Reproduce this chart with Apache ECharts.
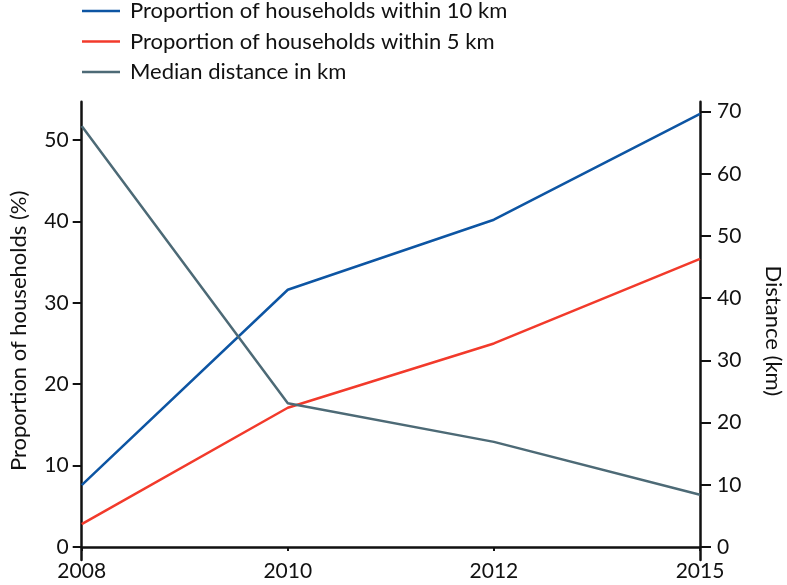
<!DOCTYPE html>
<html>
<head>
<meta charset="utf-8">
<script src="https://cdn.jsdelivr.net/npm/echarts@6/dist/echarts.min.js"></script>
<style>html,body{margin:0;padding:0;background:#fff}#c{width:787px;height:585px}</style>
</head>
<body>
<div id="c"></div>
<script>
var categories = ['2008', '2010', '2012', '2015'];
var within10km = [7.6, 31.6, 40.2, 53.2];
var within5km = [2.8, 17.1, 25.0, 35.4];
var medianDistance = [67.7, 23.1, 16.9, 8.4];
var leftTicks = [0, 10, 20, 30, 40, 50];
var rightTicks = [0, 10, 20, 30, 40, 50, 60, 70];
var seriesNames = ['Proportion of households within 10 km', 'Proportion of households within 5 km', 'Median distance in km'];

var FONT = 'Lato';
var INK = '#111';
var chart = echarts.init(document.getElementById('c'));
var axisLineStyle = { color: INK, width: 2.5 };
chart.setOption({
  animation: false,
  textStyle: { fontFamily: FONT },
  legend: {
    left: 82, top: -2, orient: 'vertical', padding: 0,
    icon: 'rect', itemWidth: 38, itemHeight: 2.5, itemGap: 4.5,
    textStyle: { fontFamily: FONT, fontSize: 22, color: INK, lineHeight: 26, padding: [0, 0, 0, 5] },
    data: seriesNames
  },
  grid: { left: 81.7, right: 87, top: 101.7, bottom: 25, containLabel: false, outerBoundsMode: 'none' },
  xAxis: {
    type: 'category', data: categories, boundaryGap: false,
    axisLine: { onZero: true, onZeroAxisIndex: 0, lineStyle: axisLineStyle },
    axisTick: { show: true, length: 4, inside: false, lineStyle: { color: INK, width: 2 } },
    axisLabel: { fontFamily: FONT, fontSize: 21, color: INK, margin: 1 },
    splitLine: { show: false }
  },
  yAxis: [{
    type: 'value', min: -1.6, max: 54.7, position: 'left',
    name: 'Proportion of households (%)', nameLocation: 'middle', nameGap: 52,
    nameTextStyle: { fontFamily: FONT, fontSize: 22, color: INK },
    axisLine: { show: true, lineStyle: axisLineStyle },
    axisTick: { show: true, length: 9, customValues: leftTicks, lineStyle: { color: INK, width: 2 } },
    axisLabel: { fontFamily: FONT, fontSize: 21, color: INK, margin: 13, customValues: leftTicks },
    splitLine: { show: false }
  }, {
    type: 'value', min: -2.09, max: 71.6, position: 'right',
    name: 'Distance (km)', nameLocation: 'middle', nameGap: 62, nameRotate: -90,
    nameTextStyle: { fontFamily: FONT, fontSize: 22, color: INK },
    axisLine: { show: true, lineStyle: axisLineStyle },
    axisTick: { show: true, length: 11, customValues: rightTicks, lineStyle: { color: INK, width: 2 } },
    axisLabel: { fontFamily: FONT, fontSize: 21, color: INK, margin: 17, customValues: rightTicks },
    splitLine: { show: false }
  }],
  series: [{
    name: seriesNames[0], type: 'line', data: within10km, yAxisIndex: 0,
    symbol: 'none', lineStyle: { color: '#0d55a3', width: 2.5 }, itemStyle: { color: '#0d55a3' }
  }, {
    name: seriesNames[1], type: 'line', data: within5km, yAxisIndex: 0,
    symbol: 'none', lineStyle: { color: '#f23a2b', width: 2.5 }, itemStyle: { color: '#f23a2b' }
  }, {
    name: seriesNames[2], type: 'line', data: medianDistance, yAxisIndex: 1,
    symbol: 'none', lineStyle: { color: '#4d6a76', width: 2.5 }, itemStyle: { color: '#4d6a76' }
  }]
});
</script>
</body>
</html>
